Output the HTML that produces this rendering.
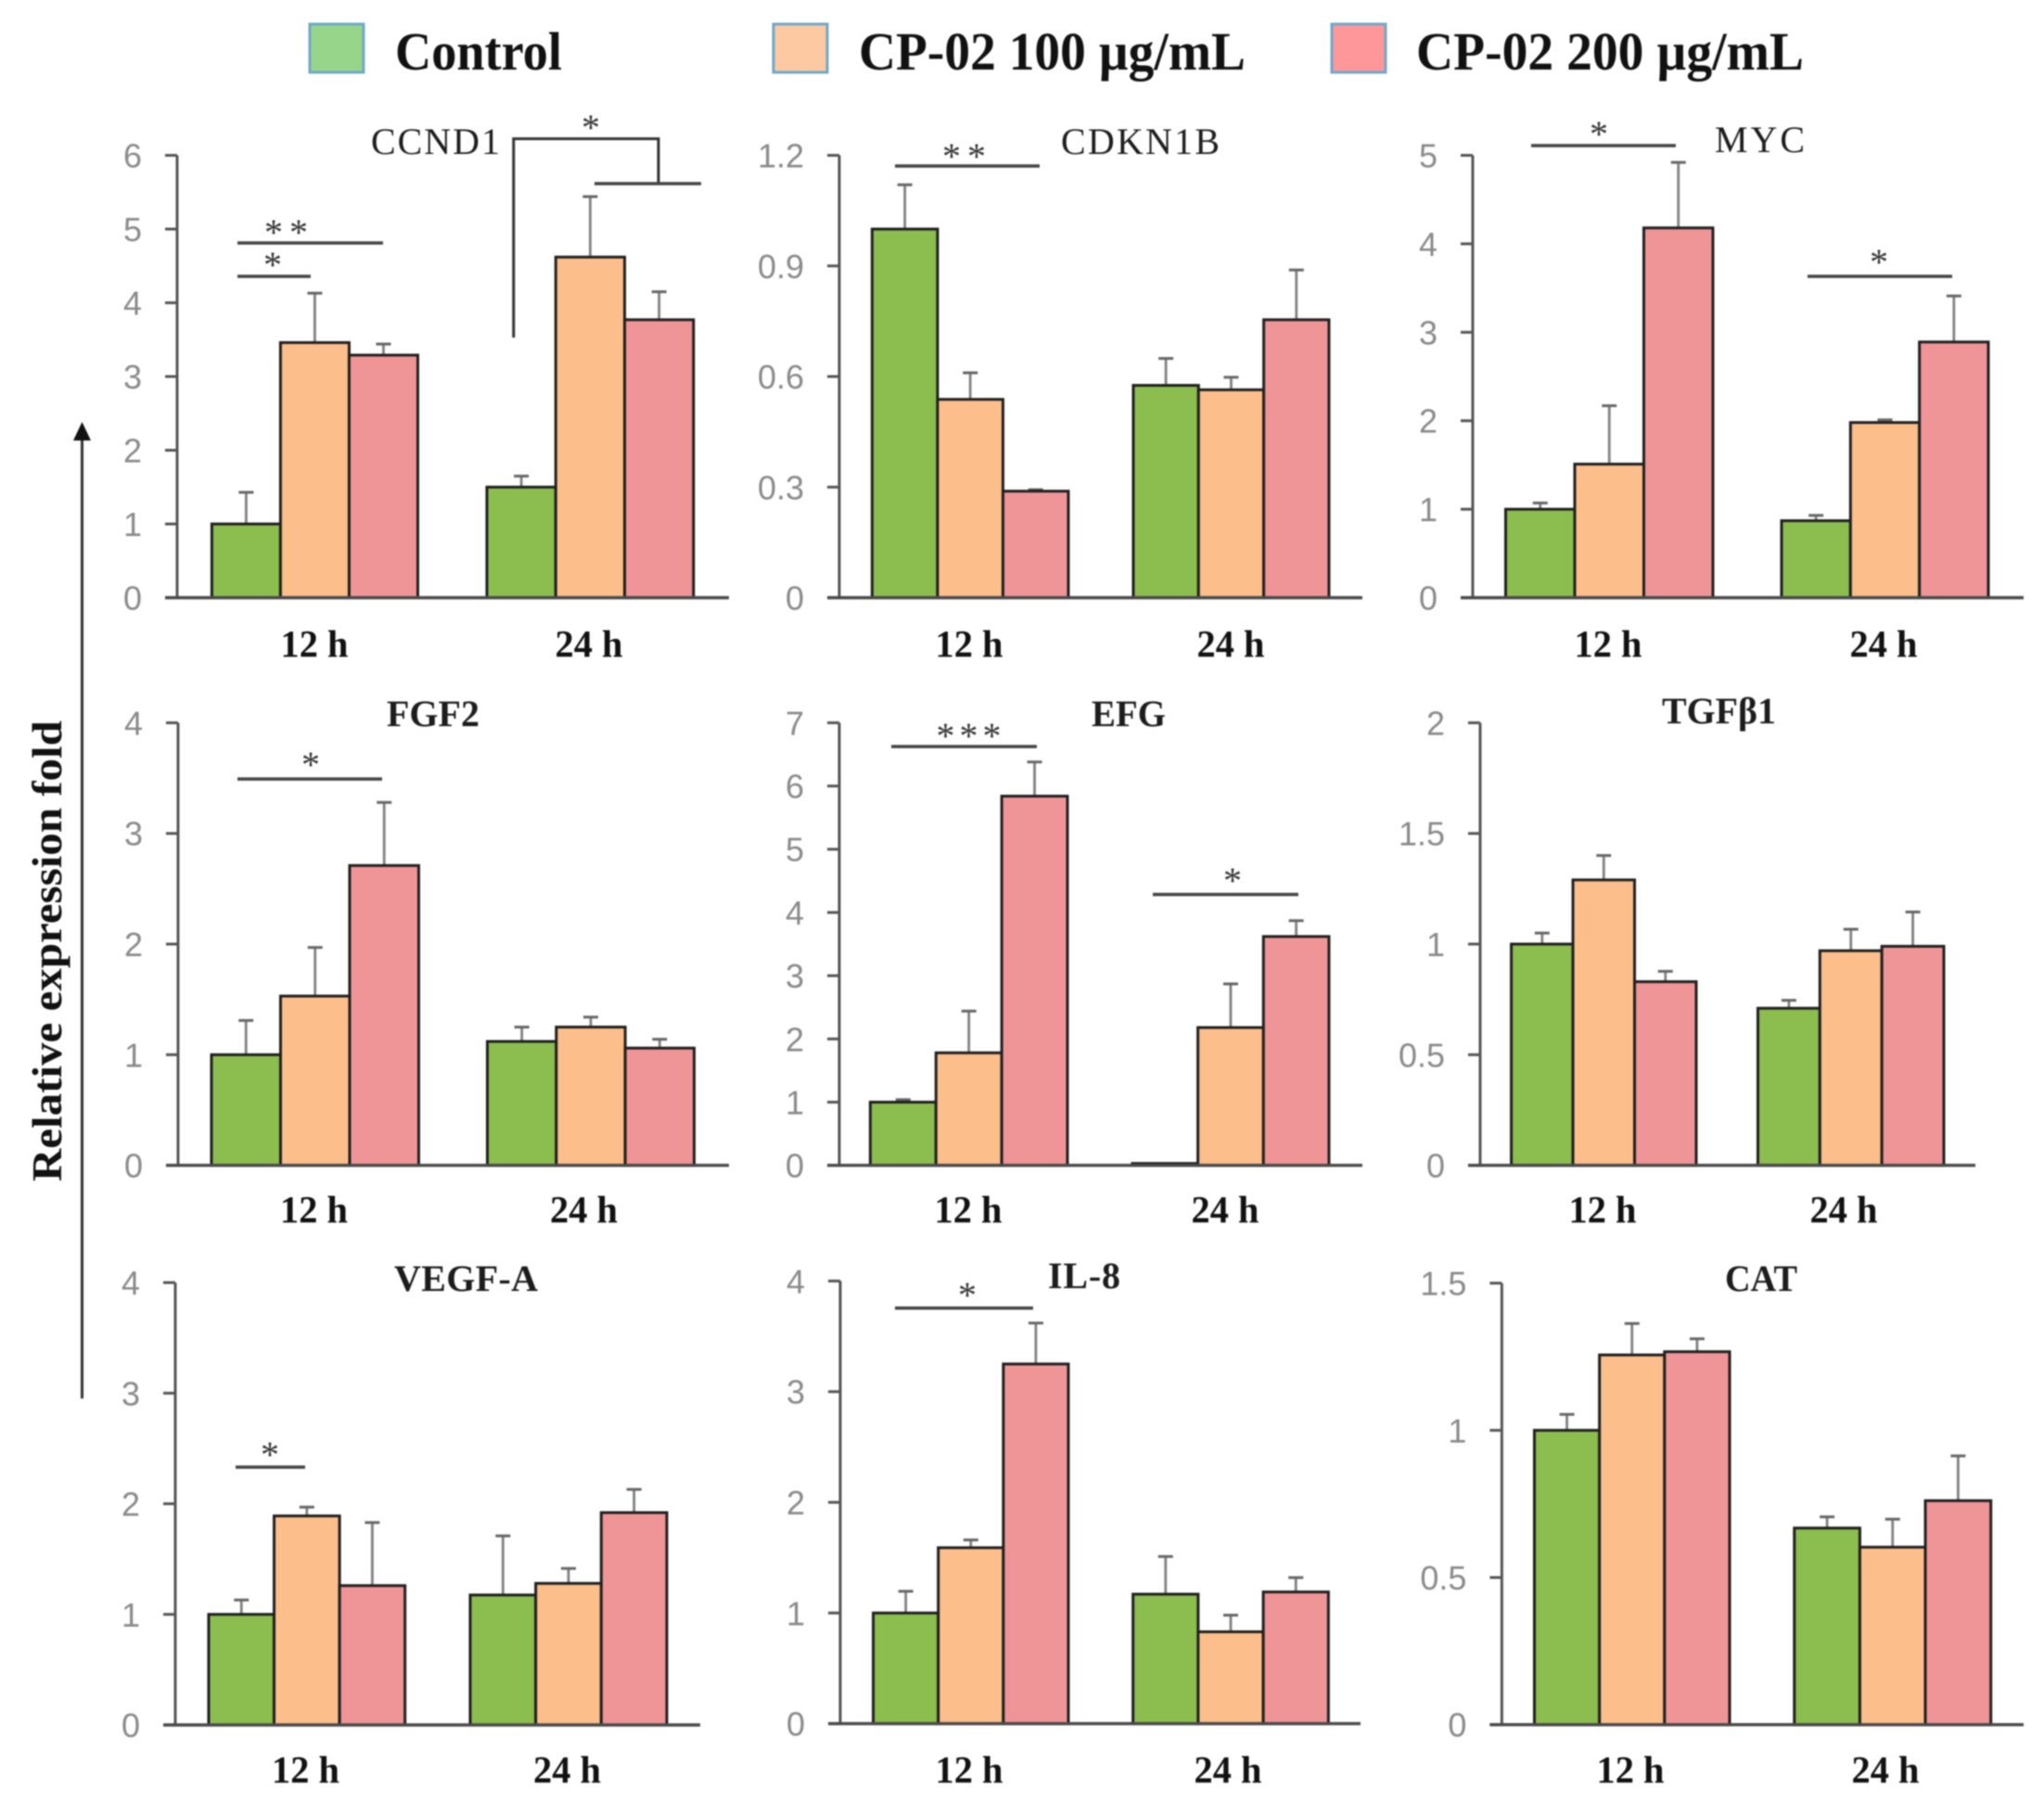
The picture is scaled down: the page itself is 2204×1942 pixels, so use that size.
<!DOCTYPE html>
<html lang="en">
<head>
<meta charset="utf-8">
<title>Relative expression fold by gene</title>
<style>
html,body{margin:0;padding:0;background:#fff;width:2204px;height:1942px;overflow:hidden}
svg{display:block;filter:blur(0.9px)}
.serif{font-family:"Liberation Serif",serif}
.legend-text{font-family:"Liberation Serif",serif;font-weight:bold;font-size:58px;fill:#111}
.title{font-family:"Liberation Serif",serif;font-size:40px;fill:#1c1c1c}
.title.b{font-weight:bold}
.star{font-family:"Liberation Serif",serif;font-size:40px;fill:#333;text-anchor:middle}
.tick-label{font-family:"Liberation Sans",sans-serif;font-size:36px;fill:#8a8a8a;text-anchor:end}
.x-label{font-family:"Liberation Serif",serif;font-weight:bold;font-size:41px;fill:#111;text-anchor:middle}
.sig{stroke:#444;stroke-width:3.5;fill:none}
</style>
</head>
<body>
<svg id="figure" width="2204" height="1942" viewBox="0 0 2204 1942" xmlns="http://www.w3.org/2000/svg">
  <rect width="2204" height="1942" fill="#fff"/>

  <g>
    <rect x="334" y="26" width="58" height="52" fill="#97d58a" stroke="#6fa8c8" stroke-width="3"/>
    <text class="legend-text" x="426" y="75" textLength="180" lengthAdjust="spacingAndGlyphs">Control</text>
    <rect x="834" y="26" width="58" height="52" fill="#fcc9a2" stroke="#6fa8c8" stroke-width="3"/>
    <text class="legend-text" x="926" y="75" textLength="417" lengthAdjust="spacingAndGlyphs">CP-02 100 µg/mL</text>
    <rect x="1436" y="26" width="58" height="52" fill="#fe979a" stroke="#6fa8c8" stroke-width="3"/>
    <text class="legend-text" x="1527" y="75" textLength="418" lengthAdjust="spacingAndGlyphs">CP-02 200 µg/mL</text>
  </g>

  <g>
    <text class="serif" transform="translate(66 1274) rotate(-90)" font-size="45" font-weight="bold" fill="#111" textLength="497" lengthAdjust="spacingAndGlyphs">Relative expression fold</text>
    <line x1="88.5" y1="1508" x2="88.5" y2="470" stroke="#333" stroke-width="3"/>
    <polygon points="88.5,455 79,475 98,475" fill="#111"/>
  </g>

  <g id="panels"></g>

  <g>
    <text class="title" x="400" y="166" textLength="139" lengthAdjust="spacing">CCND1</text>
    <text class="title" x="1144" y="166" textLength="171" lengthAdjust="spacing">CDKN1B</text>
    <text class="title" x="1849" y="164" textLength="97" lengthAdjust="spacing">MYC</text>
    <text class="title b" x="417" y="783" textLength="100" lengthAdjust="spacingAndGlyphs">FGF2</text>
    <text class="title b" x="1177" y="783" textLength="80" lengthAdjust="spacingAndGlyphs">EFG</text>
    <text class="title b" x="1792" y="780" textLength="123" lengthAdjust="spacingAndGlyphs">TGFβ1</text>
    <text class="title b" x="425" y="1392" textLength="155" lengthAdjust="spacing">VEGF-A</text>
    <text class="title b" x="1130" y="1389" textLength="78" lengthAdjust="spacing">IL-8</text>
    <text class="title b" x="1860" y="1392" textLength="78" lengthAdjust="spacingAndGlyphs">CAT</text>
  </g>

  <g>
    <line class="sig" x1="256" y1="262" x2="413" y2="262"/>
    <text class="star" x="312" y="264" letter-spacing="7">**</text>
    <line class="sig" x1="256" y1="298" x2="335" y2="298"/>
    <text class="star" x="294" y="299">*</text>
    <polyline points="553.8,364 553.8,149.6 710,149.6 710,198" fill="none" stroke="#333" stroke-width="3"/>
    <line class="sig" x1="641" y1="198" x2="756" y2="198"/>
    <text class="star" x="637" y="151">*</text>

    <line class="sig" x1="965" y1="179" x2="1121" y2="179"/>
    <text class="star" x="1043" y="182" letter-spacing="7">**</text>

    <line class="sig" x1="1651" y1="157" x2="1807" y2="157"/>
    <text class="star" x="1724" y="158">*</text>
    <line class="sig" x1="1949" y1="298" x2="2105" y2="298"/>
    <text class="star" x="2026" y="296">*</text>

    <line class="sig" x1="256" y1="840" x2="412" y2="840"/>
    <text class="star" x="335" y="838">*</text>

    <line class="sig" x1="961" y1="805" x2="1118" y2="805"/>
    <text class="star" x="1047" y="807" letter-spacing="5">***</text>
    <line class="sig" x1="1243" y1="964.5" x2="1400" y2="964.5"/>
    <text class="star" x="1329" y="963">*</text>

    <line class="sig" x1="254" y1="1582" x2="329" y2="1582"/>
    <text class="star" x="291" y="1582">*</text>

    <line class="sig" x1="965" y1="1410.5" x2="1114" y2="1410.5"/>
    <text class="star" x="1043" y="1410">*</text>
  </g>
</svg>

<script>
// Categories and series (values below are ordered: 12 h Control, 100, 200, then 24 h Control, 100, 200)
const categories = ['12 h', '24 h'];
const seriesNames = ['control', 'cp02-100', 'cp02-200'];

const ccnd1Means = [1.0, 3.46, 3.29, 1.5, 4.62, 3.77];
const ccnd1Errors = [0.43, 0.67, 0.15, 0.15, 0.82, 0.38];
const ccnd1Ticks = ['0', '1', '2', '3', '4', '5', '6'];

const cdkn1bMeans = [1.0, 0.538, 0.289, 0.576, 0.564, 0.754];
const cdkn1bErrors = [0.12, 0.072, 0.004, 0.073, 0.034, 0.135];
const cdkn1bTicks = ['0', '0.3', '0.6', '0.9', '1.2'];

const mycMeans = [1.0, 1.51, 4.18, 0.87, 1.98, 2.89];
const mycErrors = [0.07, 0.66, 0.74, 0.06, 0.03, 0.52];
const mycTicks = ['0', '1', '2', '3', '4', '5'];

const fgf2Means = [1.0, 1.53, 2.71, 1.12, 1.25, 1.06];
const fgf2Errors = [0.31, 0.44, 0.57, 0.13, 0.09, 0.08];
const fgf2Ticks = ['0', '1', '2', '3', '4'];

const efgMeans = [1.0, 1.78, 5.84, 0.03, 2.18, 3.62];
const efgErrors = [0.04, 0.66, 0.54, 0, 0.69, 0.25];
const efgTicks = ['0', '1', '2', '3', '4', '5', '6', '7'];

const tgfb1Means = [1.0, 1.29, 0.83, 0.71, 0.97, 0.99];
const tgfb1Errors = [0.05, 0.11, 0.047, 0.036, 0.097, 0.155];
const tgfb1Ticks = ['0', '0.5', '1', '1.5', '2'];

const vegfaMeans = [1.0, 1.89, 1.26, 1.175, 1.28, 1.92];
const vegfaErrors = [0.13, 0.08, 0.57, 0.535, 0.135, 0.21];
const vegfaTicks = ['0', '1', '2', '3', '4'];

const il8Means = [1.0, 1.59, 3.25, 1.17, 0.83, 1.19];
const il8Errors = [0.196, 0.07, 0.37, 0.34, 0.15, 0.13];
const il8Ticks = ['0', '1', '2', '3', '4'];

const catMeans = [1.0, 1.256, 1.267, 0.668, 0.603, 0.761];
const catErrors = [0.054, 0.107, 0.044, 0.038, 0.095, 0.152];
const catTicks = ['0', '0.5', '1', '1.5'];

const SVG_NS = 'http://www.w3.org/2000/svg';
const barFills = { 'control': '#8cbd4f', 'cp02-100': '#fcbf8c', 'cp02-200': '#f09597' };

function make(tag, attrs, parent) {
  const el = document.createElementNS(SVG_NS, tag);
  for (const k in attrs) el.setAttribute(k, attrs[k]);
  parent.appendChild(el);
  return el;
}

function drawPanel(p) {
  const root = document.getElementById('panels');
  const g = make('g', {}, root);
  
  

  const maxVal = parseFloat(p.ticks[p.ticks.length - 1]);
  const yScale = v => p.bottom - (v / maxVal) * (p.bottom - p.top);
  const xScale = (groupIdx, seriesIdx) => {
    const band = p.bands[groupIdx];
    return band.start + seriesIdx * (band.end - band.start) / seriesNames.length;
  };

  // error bars (behind bars) and bars
  categories.forEach((cat, gi) => {
    seriesNames.forEach((sn, si) => {
      const idx = gi * seriesNames.length + si;
      const mean = p.means[idx];
      const err = p.errors[idx];
      const x0 = xScale(gi, si);
      const x1 = xScale(gi, si + 1);
      const cx = (x0 + x1) / 2;
      if (err > 0) {
        const stem = make('line', { x1: cx, x2: cx, y1: yScale(mean), y2: yScale(mean + err), stroke: '#808080', 'stroke-width': 2.8 }, g);
        
        
        const cap = make('line', { x1: cx - 8, x2: cx + 8, y1: yScale(mean + err), y2: yScale(mean + err), stroke: '#666', 'stroke-width': 3 }, g);
        
        
      }
      const bar = make('rect', {
        x: x0, y: yScale(mean), width: x1 - x0, height: p.bottom - yScale(mean),
        fill: barFills[sn], stroke: '#1f1f1f', 'stroke-width': 3
      }, g);
      
      
    });
  });

  // y axis with ticks
  const yAxis = make('line', { x1: p.axisX, x2: p.axisX, y1: p.top, y2: p.bottom, stroke: '#555', 'stroke-width': 3 }, g);
  
  
  p.ticks.forEach(t => {
    const y = yScale(parseFloat(t));
    const tick = make('line', { x1: p.axisX - 13, x2: p.axisX, y1: y, y2: y, stroke: '#555', 'stroke-width': 3 }, g);
    
    
    const label = make('text', { class: 'tick-label', x: p.axisX - 38, y: y + 13 }, g);
    
    
    label.textContent = t;
  });

  // x axis
  const xAxis = make('line', { x1: p.axisX - 13, x2: p.xEnd, y1: p.bottom, y2: p.bottom, stroke: '#4a4a4a', 'stroke-width': 3.4 }, g);
  
  

  categories.forEach((cat, gi) => {
    const label = make('text', { class: 'x-label', x: p.bands[gi].label, y: p.labelY, textLength: 73, lengthAdjust: 'spacingAndGlyphs' }, g);
    
    
    label.textContent = cat;
  });
}

drawPanel({ id: 'ccnd1', means: ccnd1Means, errors: ccnd1Errors, ticks: ccnd1Ticks,
  axisX: 191, xEnd: 786, top: 167.5, bottom: 644.5, labelY: 708,
  bands: [{ start: 228.4, end: 450.5, label: 339 }, { start: 525, end: 747.8, label: 635 }] });
drawPanel({ id: 'cdkn1b', means: cdkn1bMeans, errors: cdkn1bErrors, ticks: cdkn1bTicks,
  axisX: 905, xEnd: 1469, top: 167.5, bottom: 644.5, labelY: 708,
  bands: [{ start: 940.4, end: 1152, label: 1045 }, { start: 1222, end: 1433, label: 1327 }] });
drawPanel({ id: 'myc', means: mycMeans, errors: mycErrors, ticks: mycTicks,
  axisX: 1588, xEnd: 2182, top: 167.5, bottom: 644.5, labelY: 708,
  bands: [{ start: 1623.5, end: 1847, label: 1734 }, { start: 1921, end: 2144, label: 2031 }] });
drawPanel({ id: 'fgf2', means: fgf2Means, errors: fgf2Errors, ticks: fgf2Ticks,
  axisX: 192, xEnd: 786, top: 779.4, bottom: 1256.6, labelY: 1318,
  bands: [{ start: 228, end: 451.5, label: 338.5 }, { start: 525.5, end: 748.5, label: 629.5 }] });
drawPanel({ id: 'efg', means: efgMeans, errors: efgErrors, ticks: efgTicks,
  axisX: 905, xEnd: 1469, top: 779.4, bottom: 1256.6, labelY: 1318,
  bands: [{ start: 938.4, end: 1151, label: 1044 }, { start: 1221, end: 1433, label: 1321 }] });
drawPanel({ id: 'tgfb1', means: tgfb1Means, errors: tgfb1Errors, ticks: tgfb1Ticks,
  axisX: 1596, xEnd: 2130, top: 779.4, bottom: 1256.6, labelY: 1318,
  bands: [{ start: 1629.6, end: 1829, label: 1728 }, { start: 1895.5, end: 2096, label: 1988 }] });
drawPanel({ id: 'vegf-a', means: vegfaMeans, errors: vegfaErrors, ticks: vegfaTicks,
  axisX: 189, xEnd: 755, top: 1383, bottom: 1860, labelY: 1922,
  bands: [{ start: 225, end: 436.7, label: 329.5 }, { start: 507, end: 719, label: 611.5 }] });
drawPanel({ id: 'il-8', means: il8Means, errors: il8Errors, ticks: il8Ticks,
  axisX: 906, xEnd: 1467, top: 1381.3, bottom: 1858.6, labelY: 1922,
  bands: [{ start: 941.6, end: 1152, label: 1045 }, { start: 1221.7, end: 1432.4, label: 1324 }] });
drawPanel({ id: 'cat', means: catMeans, errors: catErrors, ticks: catTicks,
  axisX: 1619.4, xEnd: 2182, top: 1383.6, bottom: 1859.7, labelY: 1922,
  bands: [{ start: 1654.5, end: 1865, label: 1758 }, { start: 1934.8, end: 2146.7, label: 2033 }] });
</script>
</body>
</html>
